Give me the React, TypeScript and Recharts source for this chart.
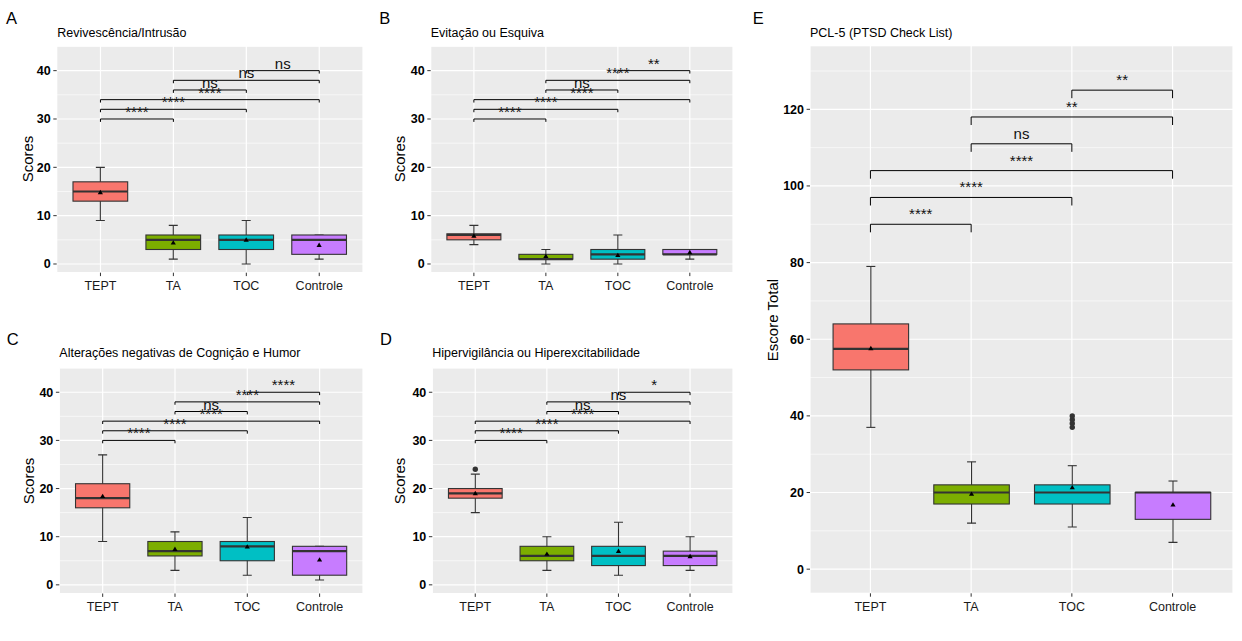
import { ComposedChart, Bar, XAxis, YAxis, CartesianGrid, ReferenceLine, ReferenceDot } from "recharts";

const groups = ["TEPT", "TA", "TOC", "Controle"];
const groupPos = [1, 2, 3, 4];
const groupColors = ["#F8766D", "#7CAE00", "#00BFC4", "#C77CFF"];

// pairwise comparisons (by group position), same order in every panel
const pairs = [[1, 2], [1, 3], [1, 4], [2, 3], [2, 4], [3, 4]];

// box stats per group: [min, q1, median, q3, max]
const intrusaoBox = [[9, 13, 15, 17, 20], [1, 3, 5, 6, 8], [0, 3, 5, 6, 9], [1, 2, 5, 6, 6]];
const intrusaoMean = [14.8, 4.4, 5.0, 3.9];
const intrusaoOut = [[], [], [], []];
const intrusaoSig = ["****", "****", "****", "ns", "ns", "ns"];

const esquivaBox = [[4, 5, 6, 6.25, 8], [0, 1, 1, 2, 3], [0, 1, 2, 3, 6], [1, 2, 2, 3, 3]];
const esquivaMean = [5.8, 1.6, 1.8, 2.4];
const esquivaOut = [[], [], [], []];
const esquivaSig = ["****", "****", "****", "ns", "****", "**"];

const cognicaoBox = [[9, 16, 18, 21, 27], [3, 6, 7, 9, 11], [2, 5, 8, 9, 14], [1, 2, 7, 8, 8]];
const cognicaoMean = [18.4, 7.4, 7.9, 5.2];
const cognicaoOut = [[], [], [], []];
const cognicaoSig = ["****", "****", "****", "ns", "****", "****"];

const hiperBox = [[15, 18, 19, 20, 23], [3, 5, 6, 8, 10], [2, 4, 6, 8, 13], [3, 4, 6, 7, 10]];
const hiperMean = [19.0, 6.4, 7.0, 5.9];
const hiperOut = [[24], [], [], []];
const hiperSig = ["****", "****", "****", "ns", "ns", "*"];

const pclBox = [[37, 52, 57.5, 64, 79], [12, 17, 20, 22, 28], [11, 17, 20, 22, 27], [7, 13, 20, 20, 23]];
const pclMean = [57.6, 19.6, 21.3, 16.8];
const pclOut = [[], [], [37, 38, 39, 40], []];
const pclSig = ["****", "****", "****", "ns", "**", "**"];

const subLevels = [30, 32, 34, 36, 38, 40];
const subTicks = [0, 10, 20, 30, 40];
const subMinor = [5, 15, 25, 35, 45];
const subDomain = [-1.8, 45.1];

const pclLevels = [90, 97, 104, 111, 118, 125];
const pclTicks = [0, 20, 40, 60, 80, 100, 120];
const pclMinor = [10, 30, 50, 70, 90, 110, 130];
const pclDomain = [-6.3, 136.6];

const font = '"Liberation Sans", Arial, sans-serif';

function BoxShape(props: any) {
  const { x, y, width, height, payload } = props;
  const top = Math.min(y, y + height);
  const bottom = Math.max(y, y + height);
  const toY = (v: number) => bottom - ((v - payload.min) / (payload.max - payload.min)) * (bottom - top);
  const cx = x + width / 2;
  const cap = 4.5;
  const ym = toY(payload.mean);
  const q3 = toY(payload.q3);
  const q1 = toY(payload.q1);
  return (
    <g>
      <line x1={cx} x2={cx} y1={toY(payload.max)} y2={toY(payload.min)} stroke="#333" strokeWidth={1.1} />
      <line x1={cx - cap} x2={cx + cap} y1={toY(payload.max)} y2={toY(payload.max)} stroke="#333" strokeWidth={1.1} />
      <line x1={cx - cap} x2={cx + cap} y1={toY(payload.min)} y2={toY(payload.min)} stroke="#333" strokeWidth={1.1} />
      <rect x={x} y={q3} width={width} height={q1 - q3} fill={payload.color} stroke="#333" strokeWidth={1.1} />
      <line x1={x} x2={x + width} y1={toY(payload.median)} y2={toY(payload.median)} stroke="#333" strokeWidth={2.2} />
      <polygon points={`${cx - 2.6},${ym + 1.8} ${cx + 2.6},${ym + 1.8} ${cx},${ym - 2.6}`} fill="#000" />
      {payload.outliers.map((o: number, i: number) => (
        <circle key={i} cx={cx} cy={toY(o)} r={2.7} fill="#333" />
      ))}
    </g>
  );
}

function Panel({ cfg }: any) {
  const plotW = cfg.width - cfg.axisW - cfg.right;
  const barSize = (plotW / 4.2) * 0.75;
  const rows = groups.map((g, i) => ({
    x: groupPos[i],
    name: g,
    color: groupColors[i],
    min: cfg.box[i][0],
    q1: cfg.box[i][1],
    median: cfg.box[i][2],
    q3: cfg.box[i][3],
    max: cfg.box[i][4],
    mean: cfg.mean[i],
    outliers: cfg.out[i],
  }));
  return (
    <div style={{ position: "absolute", left: cfg.left, top: cfg.top }}>
      <ComposedChart
        width={cfg.width}
        height={cfg.height}
        data={rows}
        margin={{ top: cfg.plotTop, right: cfg.right, bottom: 0, left: 0 }}
      >
        <YAxis yAxisId="minor" hide type="number" domain={cfg.domain} ticks={cfg.minor} allowDataOverflow />
        <CartesianGrid yAxisId="minor" vertical={false} stroke="#fff" strokeWidth={0.6} fill="#EBEBEB" />
        <CartesianGrid stroke="#fff" strokeWidth={1.2} />
        <XAxis
          dataKey="x"
          type="number"
          domain={[0.4, 4.6]}
          ticks={groupPos}
          interval={0}
          allowDataOverflow
          tickFormatter={(v: number) => groups[v - 1]}
          axisLine={false}
          tickLine={{ stroke: "#333" }}
          tickSize={3.4}
          tickMargin={5.5}
          height={cfg.xAxisH}
          tick={{ fontSize: 12.5, fill: "#1a1a1a" }}
        />
        <YAxis
          type="number"
          domain={cfg.domain}
          ticks={cfg.ticks}
          interval={0}
          allowDataOverflow
          width={cfg.axisW}
          axisLine={false}
          tickLine={{ stroke: "#333" }}
          tickSize={3.4}
          tickMargin={2.6}
          tick={{ fontSize: 12.5, fontWeight: 700, fill: "#000" }}
        />
        <Bar dataKey={(r: any) => [r.min, r.max]} barSize={barSize} shape={BoxShape} isAnimationActive={false} />
        {pairs.map(([a, b], i) => {
          const lvl = cfg.levels[i];
          return [
            <ReferenceLine key={`h${i}`} segment={[{ x: a, y: lvl }, { x: b, y: lvl }]} stroke="#000" strokeWidth={1} />,
            <ReferenceLine key={`l${i}`} segment={[{ x: a, y: lvl }, { x: a, y: lvl - cfg.tip }]} stroke="#000" strokeWidth={1} />,
            <ReferenceLine key={`r${i}`} segment={[{ x: b, y: lvl }, { x: b, y: lvl - cfg.tip }]} stroke="#000" strokeWidth={1} />,
            <ReferenceDot
              key={`t${i}`}
              x={(a + b) / 2}
              y={lvl}
              shape={(p: any) => (
                <text x={p.cx} y={p.cy - cfg.labelOff} textAnchor="middle" fontSize={15} fill="#111">
                  {cfg.sig[i]}
                </text>
              )}
            />,
          ];
        })}
      </ComposedChart>
    </div>
  );
}

const panels = [
  { key: "A", title: "Revivescência/Intrusão", yTitle: "Scores", left: 0, top: 0, width: 370, height: 310, axisW: 56.7, right: 7, plotTop: 46, xAxisH: 37.3,
    box: intrusaoBox, mean: intrusaoMean, out: intrusaoOut, sig: intrusaoSig, levels: subLevels, ticks: subTicks, minor: subMinor, domain: subDomain, tip: 0.6, labelOff: 2,
    letterPos: [6, 9.5], titlePos: [57.3, 26.7], yTitlePos: [27, 159.4] },
  { key: "B", title: "Evitação ou Esquiva", yTitle: "Scores", left: 370, top: 0, width: 370, height: 310, axisW: 60.7, right: 7, plotTop: 46, xAxisH: 37.3,
    box: esquivaBox, mean: esquivaMean, out: esquivaOut, sig: esquivaSig, levels: subLevels, ticks: subTicks, minor: subMinor, domain: subDomain, tip: 0.6, labelOff: 2,
    letterPos: [379.3, 10], titlePos: [430.7, 26.7], yTitlePos: [399, 159.4] },
  { key: "C", title: "Alterações negativas de Cognição e Humor", yTitle: "Scores", left: 0, top: 320, width: 370, height: 321, axisW: 59.3, right: 7, plotTop: 47.7, xAxisH: 47.5,
    box: cognicaoBox, mean: cognicaoMean, out: cognicaoOut, sig: cognicaoSig, levels: subLevels, ticks: subTicks, minor: subMinor, domain: subDomain, tip: 0.6, labelOff: 2,
    letterPos: [6.7, 331], titlePos: [59.3, 346.7], yTitlePos: [27.5, 480.6] },
  { key: "D", title: "Hipervigilância ou Hiperexcitabilidade", yTitle: "Scores", left: 370, top: 320, width: 370, height: 321, axisW: 62.3, right: 7, plotTop: 47.7, xAxisH: 47.5,
    box: hiperBox, mean: hiperMean, out: hiperOut, sig: hiperSig, levels: subLevels, ticks: subTicks, minor: subMinor, domain: subDomain, tip: 0.6, labelOff: 2,
    letterPos: [380, 331], titlePos: [432.3, 346.7], yTitlePos: [399, 480.6] },
  { key: "E", title: "PCL-5 (PTSD Check List)", yTitle: "Escore Total", left: 750, top: 0, width: 492, height: 641, axisW: 60, right: 9, plotTop: 45.7, xAxisH: 47.7,
    box: pclBox, mean: pclMean, out: pclOut, sig: pclSig, levels: pclLevels, ticks: pclTicks, minor: pclMinor, domain: pclDomain, tip: 2.1, labelOff: 5,
    letterPos: [752.7, 9.5], titlePos: [810, 26.7], yTitlePos: [772, 319.5] },
];

export default function App() {
  return (
    <div style={{ position: "absolute", left: 0, top: 0, width: 1242, height: 641, background: "#fff", fontFamily: font, overflow: "hidden" }}>
      {panels.map((p) => (
        <Panel key={p.key} cfg={p} />
      ))}
      {panels.map((p) => (
        <div key={`lt${p.key}`}>
          <div style={{ position: "absolute", left: p.letterPos[0], top: p.letterPos[1], fontSize: 16.5, lineHeight: 1, color: "#000" }}>{p.key}</div>
          <div style={{ position: "absolute", left: p.titlePos[0], top: p.titlePos[1], fontSize: 12.5, lineHeight: 1, color: "#000", whiteSpace: "nowrap" }}>{p.title}</div>
          <div
            style={{
              position: "absolute",
              left: p.yTitlePos[0],
              top: p.yTitlePos[1],
              transform: "translate(-50%, -50%) rotate(-90deg)",
              fontSize: 15,
              lineHeight: 1,
              color: "#000",
              whiteSpace: "nowrap",
            }}
          >
            {p.yTitle}
          </div>
        </div>
      ))}
    </div>
  );
}
